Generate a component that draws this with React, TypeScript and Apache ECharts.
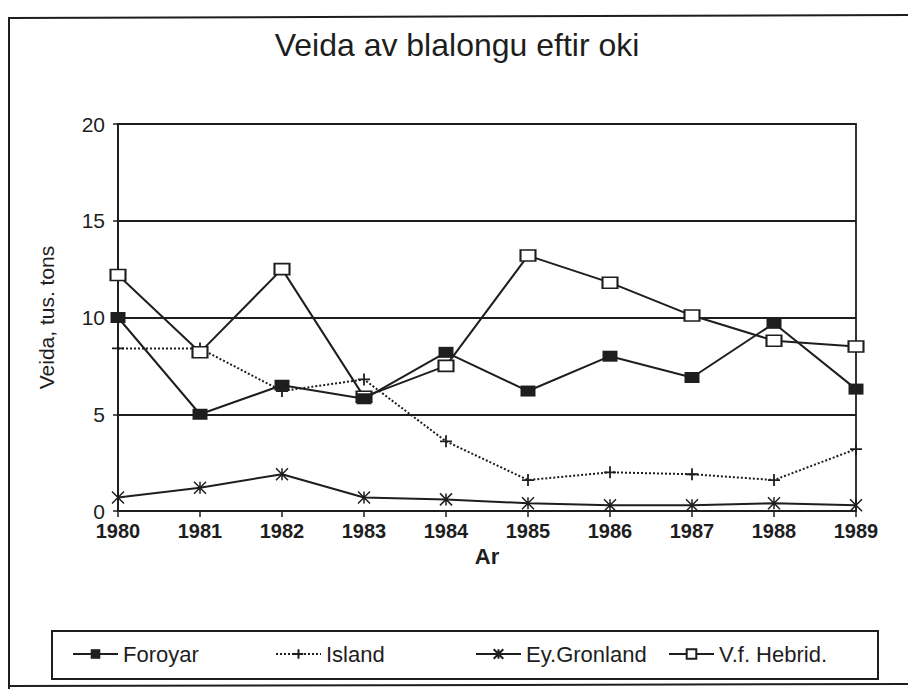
import React, { useEffect, useRef } from "react";
import * as echarts from "echarts";

const years = ["1980", "1981", "1982", "1983", "1984", "1985", "1986", "1987", "1988", "1989"];
const foroyar = [10.0, 5.0, 6.5, 5.8, 8.2, 6.2, 8.0, 6.9, 9.7, 6.3];
const island = [8.4, 8.4, 6.2, 6.8, 3.6, 1.6, 2.0, 1.9, 1.6, 3.2];
const gronland = [0.7, 1.2, 1.9, 0.7, 0.6, 0.4, 0.3, 0.3, 0.4, 0.3];
const hebrid = [12.2, 8.2, 12.5, 5.9, 7.5, 13.2, 11.8, 10.1, 8.8, 8.5];
const seriesNames = ["Foroyar", "Island", "Ey.Gronland", "V.f. Hebrid."];
const yTicks = { min: 0, max: 20, interval: 5 };

const INK = "#1e1e1e";
const FONT = "'Liberation Sans', Arial, sans-serif";

export default function App() {
  const ref = useRef<HTMLDivElement>(null);
  useEffect(() => {
    if (!ref.current) return;
    const chart = echarts.init(ref.current, null, { renderer: "svg" });
    const plus = "path://M0,5L10,5M5,0L5,10";
    const star = "path://M0,0L10,10M10,0L0,10M5,0L5,10";
    const legendLefts = [72, 275, 475, 668];
    chart.setOption({
      animation: false,
      backgroundColor: "#fff",
      textStyle: { fontFamily: FONT, color: INK },
      title: {
        text: "Veida av blalongu eftir oki",
        left: 457,
        top: 29,
        textAlign: "center",
        padding: 0,
        textStyle: { fontSize: 32, fontWeight: "normal", color: INK, fontFamily: FONT },
      },
      legend: seriesNames.map((n, i) => ({
        data: [n],
        left: legendLefts[i],
        top: 643,
        padding: 0,
        itemWidth: 45,
        itemHeight: 12,
        textStyle: { fontSize: 22, color: INK, fontFamily: FONT },
      })),
      grid: {
        left: 118,
        right: 52,
        top: 124,
        bottom: 178,
        show: true,
        borderColor: INK,
        borderWidth: 1.8,
      },
      xAxis: {
        type: "category",
        data: years,
        boundaryGap: false,
        name: "Ar",
        nameLocation: "middle",
        nameGap: 34,
        nameTextStyle: { fontSize: 22, fontWeight: "bold", color: INK, fontFamily: FONT },
        axisLine: { lineStyle: { color: INK, width: 1.8 } },
        axisTick: { show: true, length: 6, lineStyle: { color: INK, width: 1.5 } },
        axisLabel: { fontSize: 20, fontWeight: "bold", color: INK, margin: 10, fontFamily: FONT },
        splitLine: { show: false },
      },
      yAxis: {
        type: "value",
        min: yTicks.min,
        max: yTicks.max,
        interval: yTicks.interval,
        name: "Veida, tus. tons",
        nameLocation: "middle",
        nameGap: 61,
        nameTextStyle: { fontSize: 21, color: INK, fontFamily: FONT },
        axisLine: { show: true, lineStyle: { color: INK, width: 1.8 } },
        axisTick: { show: true, length: 5, lineStyle: { color: INK, width: 1.5 } },
        axisLabel: { fontSize: 21, color: INK, margin: 13, fontFamily: FONT },
        splitLine: { show: true, lineStyle: { color: INK, width: 1.8 } },
      },
      series: [
        {
          name: seriesNames[0],
          type: "line",
          data: foroyar,
          symbol: "rect",
          symbolSize: [15, 11],
          color: INK,
          lineStyle: { color: INK, width: 2 },
          itemStyle: { color: INK },
          z: 4,
        },
        {
          name: seriesNames[1],
          type: "line",
          data: island,
          symbol: plus,
          symbolSize: 12,
          color: INK,
          lineStyle: { color: INK, width: 2, type: "dotted" },
          itemStyle: { color: "none", borderColor: INK, borderWidth: 1.8 },
          z: 3,
        },
        {
          name: seriesNames[2],
          type: "line",
          data: gronland,
          symbol: star,
          symbolSize: 12,
          color: INK,
          lineStyle: { color: INK, width: 2 },
          itemStyle: { color: "none", borderColor: INK, borderWidth: 1.5 },
          z: 3,
        },
        {
          name: seriesNames[3],
          type: "line",
          data: hebrid,
          symbol: "rect",
          symbolSize: [15, 11],
          color: INK,
          lineStyle: { color: INK, width: 2 },
          itemStyle: { color: "#fff", borderColor: INK, borderWidth: 1.8 },
          z: 3,
        },
      ],
      graphic: [
        {
          type: "line",
          shape: { x1: 8, y1: 18, x2: 908, y2: 15 },
          style: { stroke: INK, lineWidth: 2 },
        },
        {
          type: "line",
          shape: { x1: 9, y1: 18, x2: 9, y2: 689 },
          style: { stroke: INK, lineWidth: 2 },
        },
        {
          type: "line",
          shape: { x1: 8, y1: 686, x2: 908, y2: 684 },
          style: { stroke: INK, lineWidth: 2 },
        },
        {
          type: "rect",
          shape: { x: 52, y: 631, width: 826, height: 48 },
          style: { fill: "none", stroke: INK, lineWidth: 2 },
          z: -1,
        },
      ],
    });
    return () => chart.dispose();
  }, []);
  return (
    <div
      ref={ref}
      style={{ position: "fixed", left: 0, top: 0, width: 908, height: 689 }}
    />
  );
}
